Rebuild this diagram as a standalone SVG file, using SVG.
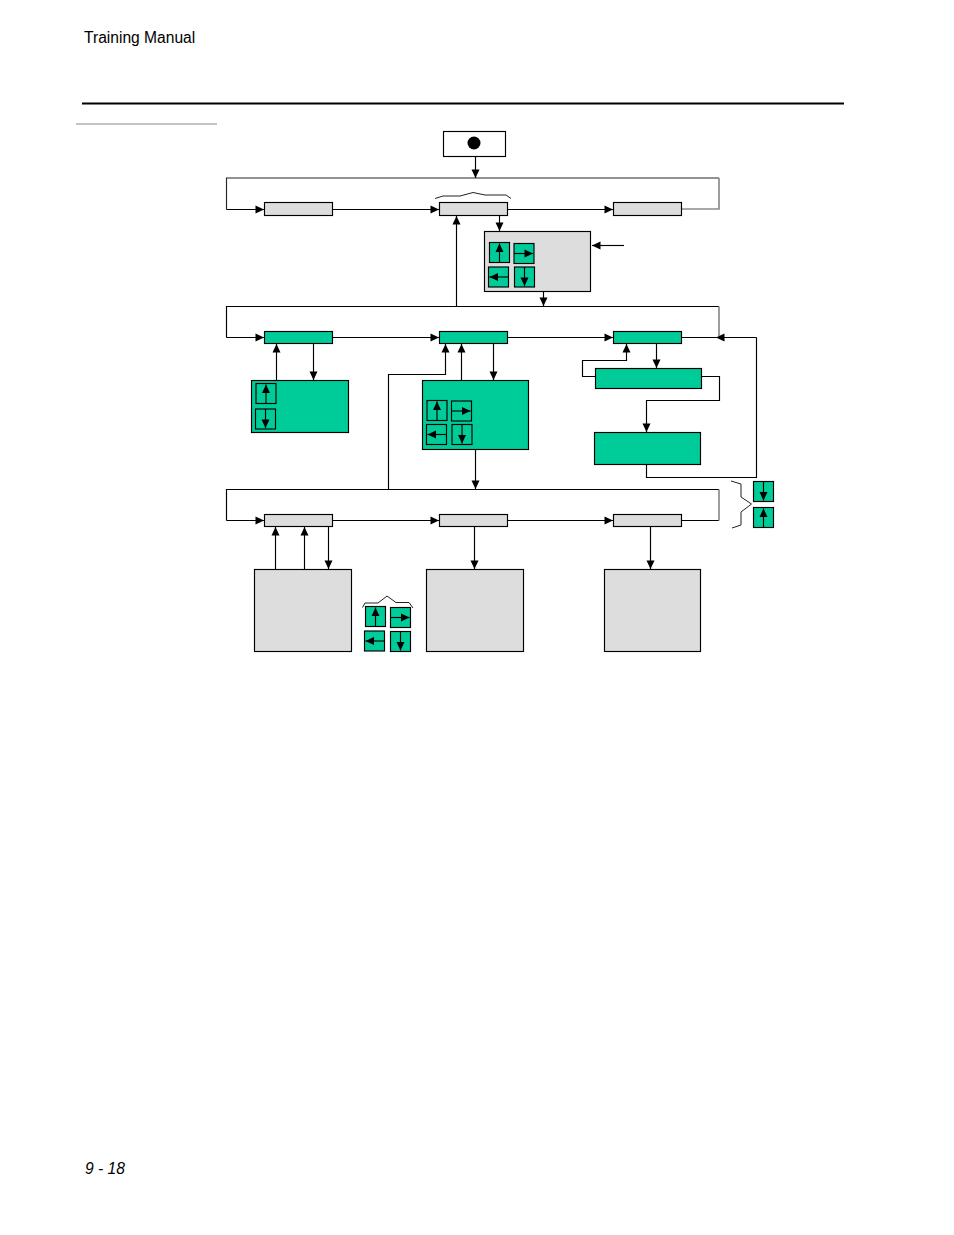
<svg xmlns="http://www.w3.org/2000/svg" width="954" height="1235" viewBox="0 0 954 1235">
<style>
.g{fill:#dddddd;stroke:#000;stroke-width:1.15}
.t{fill:#00cc99;stroke:#000;stroke-width:1.15}
.w{fill:#fff;stroke:#000;stroke-width:1.15}
.c{fill:none;stroke:#000;stroke-width:1.15}
.a{fill:none;stroke:#000;stroke-width:1.15;marker-end:url(#ah)}
.s{fill:none;stroke:#8c8c8c;stroke-width:1.7}
.b{fill:none;stroke:#222;stroke-width:1}
.x{font-family:"Liberation Sans",Arial,sans-serif;font-size:15.6px;fill:#000}
</style>
<defs>
<marker id="ah" markerUnits="userSpaceOnUse" markerWidth="10" markerHeight="10" refX="9" refY="4.5" orient="auto"><path d="M0.5,0.5L9,4.5L0.5,8.5Z" fill="#000"/></marker>
<g id="up"><rect class="t" x="-10" y="-10" width="20" height="20"/><path class="a" d="M0,10V-9"/></g>
<g id="dn"><rect class="t" x="-10" y="-10" width="20" height="20"/><path class="a" d="M0,-10V9"/></g>
<g id="rt"><rect class="t" x="-10" y="-10" width="20" height="20"/><path class="a" d="M-10,0H9"/></g>
<g id="lf"><rect class="t" x="-10" y="-10" width="20" height="20"/><path class="a" d="M10,0H-9"/></g>
</defs>
<rect width="954" height="1235" fill="#fff"/>
<text class="x" x="84" y="42.6">Training Manual</text>
<text class="x" x="85" y="1174" font-style="italic">9 - 18</text>
<path d="M82,103.5H844" stroke="#000" stroke-width="2" fill="none"/>
<path d="M76,124H217" stroke="#c4c4c4" stroke-width="2" fill="none"/>

<g id="connectors">
<path class="a" d="M475.5,157V178"/>
<path class="c" stroke-opacity=".85" d="M719,178H226.5V209.5"/>
<path class="a" d="M226.5,209.5H264"/>
<path class="a" d="M332.5,209.5H439"/>
<path class="a" d="M507.5,209.5H613"/>
<path class="s" d="M681.5,209H719V178"/>
<path class="a" d="M456.5,306.5V216"/>
<path class="a" d="M499.5,215.5V231"/>
<path class="a" d="M624,245.5H592"/>
<path class="a" d="M543.5,291.5V306"/>
<path class="c" d="M719,306.5H226.5V337.5"/>
<path class="a" d="M226.5,337.5H264"/>
<path class="a" d="M332.5,337.5H439"/>
<path class="a" d="M507.5,337.5H613"/>
<path class="c" d="M681.5,337.5H719"/>
<path class="s" d="M719,306.5V337"/>
<path class="a" d="M756.5,337.5H716"/>
<path class="c" d="M756.5,337.5V477.5H646.5V464.5"/>
<path class="a" d="M656.5,343.5V368"/>
<path class="a" d="M595.5,376.5H582.5V360.5H626.5V344"/>
<path class="a" d="M701.5,376.5H719.5V400.5H646.5V432"/>
<path class="a" d="M276.5,380.5V344"/>
<path class="a" d="M313.5,343.5V380"/>
<path class="a" d="M461.5,380.5V344"/>
<path class="a" d="M493.5,343.5V380"/>
<path class="a" d="M388.5,489.5V374.5H445.5V344"/>
<path class="a" d="M475.5,449.5V489"/>
<path class="c" d="M719,489.5H226.5V520.5"/>
<path class="a" d="M226.5,520.5H264"/>
<path class="a" d="M332.5,520.5H439"/>
<path class="a" d="M507.5,520.5H613"/>
<path class="c" d="M681.5,520.5H719"/>
<path class="s" d="M719,489.5V520.5"/>
<path class="a" d="M275.5,569.5V527"/>
<path class="a" d="M304.5,569.5V527"/>
<path class="a" d="M328.5,526.5V569"/>
<path class="a" d="M474.5,526.5V569"/>
<path class="a" d="M650.5,526.5V569"/>
<path class="b" d="M435,198.5L443,196H460L473,192.5L485,195H506L511,198.5"/>
<path class="b" d="M362.5,607.5L365,603H378L387,596L396,602.5H409L413,608"/>
<path class="b" d="M731,481L741,484V497L751.5,504L741,512V525L732,528"/>
</g>

<g id="start"><rect class="w" x="443.5" y="131.5" width="62" height="25"/><circle cx="474" cy="143" r="6.5" fill="#000"/></g>
<g id="n1a"><rect class="g" x="264.5" y="202.5" width="68" height="13"/></g>
<g id="n1b"><rect class="g" x="439.5" y="202.5" width="68" height="13"/></g>
<g id="n1c"><rect class="g" x="613.5" y="202.5" width="68" height="13"/></g>
<g id="n1d"><rect class="g" x="484.5" y="231.5" width="106" height="60"/>
<use href="#up" x="499.5" y="252.5"/><use href="#rt" x="524" y="253.5"/><use href="#lf" x="498.5" y="277"/><use href="#dn" x="524.5" y="277"/></g>
<g id="n2a"><rect class="t" x="264.5" y="331.5" width="68" height="12"/></g>
<g id="n2b"><rect class="t" x="439.5" y="331.5" width="68" height="12"/></g>
<g id="n2c"><rect class="t" x="613.5" y="331.5" width="68" height="12"/></g>
<g id="n2d"><rect class="t" x="251.5" y="380.5" width="97" height="52"/>
<use href="#up" x="266" y="393.5"/><use href="#dn" x="265.5" y="419"/></g>
<g id="n2e"><rect class="t" x="422.5" y="380.5" width="106" height="69"/>
<use href="#up" x="437" y="410.5"/><use href="#rt" x="461.5" y="411"/><use href="#lf" x="436.5" y="434.5"/><use href="#dn" x="462" y="434.5"/></g>
<g id="n2f"><rect class="t" x="595.5" y="368.5" width="106" height="20"/></g>
<g id="n2g"><rect class="t" x="594.5" y="432.5" width="106" height="32"/></g>
<g id="n3a"><rect class="g" x="264.5" y="514.5" width="68" height="12"/></g>
<g id="n3b"><rect class="g" x="439.5" y="514.5" width="68" height="12"/></g>
<g id="n3c"><rect class="g" x="613.5" y="514.5" width="68" height="12"/></g>
<g id="n3d"><rect class="g" x="254.5" y="569.5" width="97" height="82"/></g>
<g id="n3e"><rect class="g" x="426.5" y="569.5" width="97" height="82"/></g>
<g id="n3f"><rect class="g" x="604.5" y="569.5" width="96" height="82"/></g>
<g id="keys1"><use href="#up" x="375.5" y="616.5"/><use href="#rt" x="400.5" y="617.5"/><use href="#lf" x="374.5" y="641"/><use href="#dn" x="400.5" y="641.5"/></g>
<g id="keys2"><use href="#dn" x="763.5" y="491.5"/><use href="#up" x="763.5" y="517.5"/></g>
</svg>
